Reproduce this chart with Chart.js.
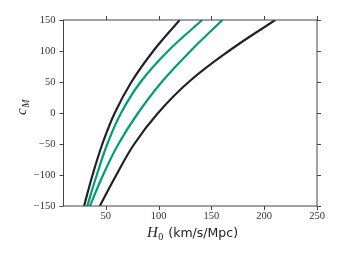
<!DOCTYPE html>
<html>
<head>
<meta charset="utf-8">
<script src="https://cdn.jsdelivr.net/npm/chart.js@4"></script>
<style>
  html, body { margin: 0; padding: 0; background: #fff; }
</style>
</head>
<body>
<canvas id="chart" width="341" height="256"></canvas>
<script>
const cLevels = [-150, -100, -50, 0, 50, 100, 150];
// H0 values of the four curves at those levels
const blackLow = [29.5, 37.5, 46.8, 58.5, 74.3, 95, 120];
const greenLow = [32.5, 41.5, 51.5, 64.5, 83, 109, 141.3];
const greenHigh = [35, 47.5, 62, 80.6, 103, 130.3, 160.5];
const blackHigh = [44.4, 60, 77, 99.5, 128.5, 166.5, 210.4];

const xTicks = [50, 100, 150, 200, 250];
const yTicks = [-150, -100, -50, 0, 50, 100, 150];

const toPoints = (xs) => xs.map((x, i) => ({ x: x, y: cLevels[i] }));

function curve(xs, color) {
  return {
    data: toPoints(xs),
    showLine: true,
    borderColor: color,
    borderWidth: 2.2,
    pointRadius: 0,
    tension: 0.4,
    fill: false
  };
}

// frame, outward ticks and mixed-font axis titles
const framePlugin = {
  id: 'frame',
  afterDatasetsDraw(chart) {
    const { ctx, chartArea: a, scales } = chart;
    ctx.save();
    ctx.strokeStyle = '#444';
    ctx.lineWidth = 1;
    ctx.strokeRect(a.left, a.top, a.right - a.left, a.bottom - a.top);
    ctx.beginPath();
    xTicks.forEach(v => {
      const px = Math.round(scales.x.getPixelForValue(v)) + 0.5;
      ctx.moveTo(px, a.bottom); ctx.lineTo(px, a.bottom + 4);
      ctx.moveTo(px, a.top); ctx.lineTo(px, a.top - 4);
    });
    yTicks.forEach(v => {
      const py = Math.round(scales.y.getPixelForValue(v)) + 0.5;
      ctx.moveTo(a.left, py); ctx.lineTo(a.left - 4, py);
      ctx.moveTo(a.right, py); ctx.lineTo(a.right + 4, py);
    });
    ctx.stroke();

    // x title: H_0 (km/s/Mpc)
    ctx.fillStyle = '#222';
    ctx.textBaseline = 'alphabetic';
    let x = 147, y = 237;
    ctx.font = 'italic 15px "Liberation Serif"';
    ctx.fillText('H', x, y);
    x += ctx.measureText('H').width + 0.5;
    ctx.font = '10px "Liberation Serif"';
    ctx.fillText('0', x, y + 2.5);
    x += ctx.measureText('0').width + 5;
    ctx.font = '12.5px "DejaVu Sans"';
    ctx.fillText('(km/s/Mpc)', x, y);

    // y title: c_M
    ctx.translate(26, 115);
    ctx.rotate(-Math.PI / 2);
    ctx.font = 'italic 15px "Liberation Serif"';
    ctx.fillText('c', 0, 0);
    const cw = ctx.measureText('c').width;
    ctx.font = 'italic 10px "Liberation Serif"';
    ctx.fillText('M', cw + 0.5, 2.5);
    ctx.restore();
  }
};

new Chart(document.getElementById('chart'), {
  type: 'scatter',
  data: {
    datasets: [
      curve(blackLow, '#222222'),
      curve(greenLow, '#009e73'),
      curve(greenHigh, '#009e73'),
      curve(blackHigh, '#222222')
    ]
  },
  options: {
    responsive: false,
    animation: false,
    layout: { padding: { left: 0, right: 24, top: 20, bottom: 0 } },
    plugins: { legend: { display: false }, tooltip: { enabled: false } },
    scales: {
      x: {
        type: 'linear',
        min: 10,
        max: 250,
        grid: { display: false, drawTicks: false, tickLength: 0 },
        border: { display: false },
        afterBuildTicks: (s) => { s.ticks = xTicks.map(v => ({ value: v })); },
        afterFit: (s) => { s.height = 50; },
        ticks: {
          padding: 4,
          color: '#333',
          font: { family: '"Liberation Serif"', size: 10.5 }
        }
      },
      y: {
        type: 'linear',
        min: -150,
        max: 150,
        grid: { display: false, drawTicks: false, tickLength: 0 },
        border: { display: false },
        afterBuildTicks: (s) => { s.ticks = yTicks.map(v => ({ value: v })); },
        afterFit: (s) => { s.width = 63.5; },
        ticks: {
          padding: 8,
          color: '#333',
          font: { family: '"Liberation Serif"', size: 10.5 },
          callback: (v) => v < 0 ? '\u2212' + Math.abs(v) : String(v)
        }
      }
    }
  },
  plugins: [framePlugin]
});
</script>
</body>
</html>
